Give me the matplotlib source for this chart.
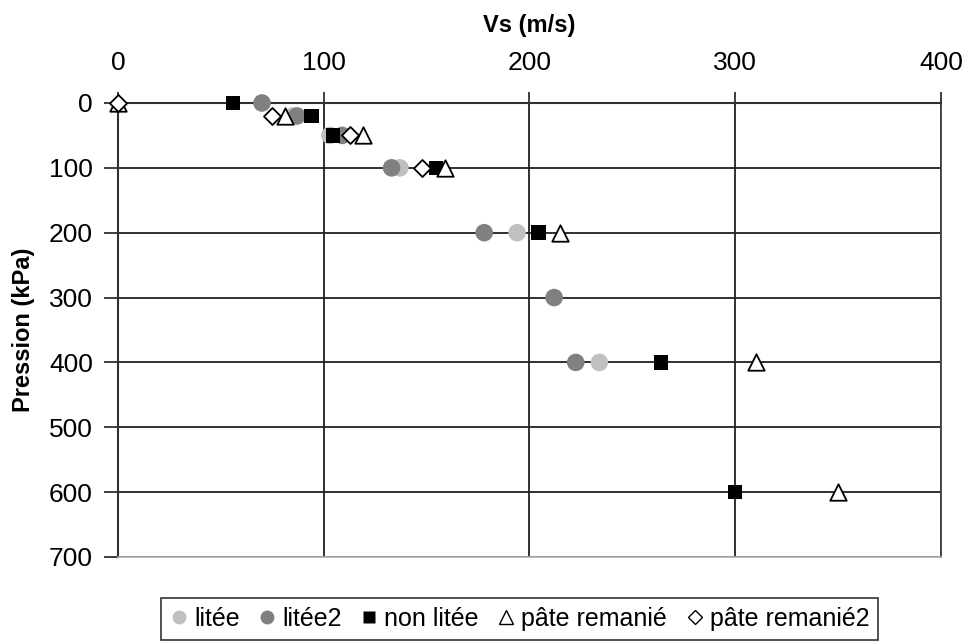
import matplotlib
matplotlib.use("Agg")
import matplotlib.pyplot as plt
from matplotlib.lines import Line2D

plt.rcParams['font.family'] = ['Liberation Sans', 'DejaVu Sans']

# Data: pressure (kPa) vs shear-wave velocity Vs (m/s)
litee_p = [20, 50, 100, 200, 400]
litee_vs = [85, 103, 137, 194, 234]

litee2_p = [0, 20, 50, 100, 200, 300, 400]
litee2_vs = [70, 87, 109, 133, 178, 212, 222.5]

nonlitee_p = [0, 20, 50, 100, 200, 400, 600]
nonlitee_vs = [56, 94, 104.5, 154.5, 204.5, 264, 300]

pate_p = [0, 20, 50, 100, 200, 400, 600]
pate_vs = [0, 81, 119, 159, 215, 310, 350]

pate2_p = [0, 20, 50, 100]
pate2_vs = [0, 75, 113, 148]

series_names = ["litée", "litée2", "non litée", "pâte remanié", "pâte remanié2"]
x_ticks = [0, 100, 200, 300, 400]
y_ticks = [0, 100, 200, 300, 400, 500, 600, 700]

fig = plt.figure(figsize=(9.67, 6.42), dpi=100)
ax = fig.add_axes([0.122, 0.1324, 0.851, 0.7072])

ax.scatter(litee_vs, litee_p, marker='o', s=160, color='#c0c0c0', edgecolors='none', zorder=3, clip_on=False)
ax.scatter(litee2_vs, litee2_p, marker='o', s=160, color='#808080', edgecolors='none', zorder=4, clip_on=False)
ax.scatter(nonlitee_vs, nonlitee_p, marker='s', s=110, color='black', edgecolors='none', zorder=5, clip_on=False)
ax.scatter(pate_vs, pate_p, marker='^', s=140, facecolors='white', edgecolors='black', linewidths=1.3, zorder=6, clip_on=False)
ax.scatter(pate2_vs, pate2_p, marker='D', s=75, facecolors='white', edgecolors='black', linewidths=1.3, zorder=7, clip_on=False)

ax.set_xlim(0, 400)
ax.set_ylim(700, 0)
ax.set_xticks(x_ticks)
ax.set_yticks(y_ticks)
ax.xaxis.tick_top()
ax.xaxis.set_label_position('top')

ax.grid(True, color='#202020', linewidth=1.3)
ax.set_axisbelow(True)

for side in ['left', 'top']:
    ax.spines[side].set_color('#303030')
    ax.spines[side].set_linewidth(1.5)
ax.spines['bottom'].set_color('#b0b0b0')
ax.spines['bottom'].set_linewidth(1.2)
ax.spines['right'].set_color('#404040')
ax.spines['right'].set_linewidth(1.3)

ax.tick_params(axis='x', which='both', top=True, bottom=False, length=8, width=1.3,
               pad=12, labelsize=19, color='#303030')
ax.tick_params(axis='y', which='both', left=True, length=10, width=1.3,
               pad=8, labelsize=19, color='#303030')

ax.set_xlabel("Vs (m/s)", fontsize=17, fontweight='bold', labelpad=14)
ax.set_ylabel("Pression (kPa)", fontsize=17, fontweight='bold', labelpad=10)

handles = [
    Line2D([], [], linestyle='none', marker='o', markersize=10, markerfacecolor='#c0c0c0', markeredgecolor='none'),
    Line2D([], [], linestyle='none', marker='o', markersize=10, markerfacecolor='#808080', markeredgecolor='none'),
    Line2D([], [], linestyle='none', marker='s', markersize=8, markerfacecolor='black', markeredgecolor='none'),
    Line2D([], [], linestyle='none', marker='^', markersize=10, markerfacecolor='white', markeredgecolor='black', markeredgewidth=1),
    Line2D([], [], linestyle='none', marker='D', markersize=7, markerfacecolor='white', markeredgecolor='black', markeredgewidth=1),
]
leg = fig.legend(handles, series_names, loc='center', bbox_to_anchor=(0.537, 0.036),
                 ncol=5, fontsize=18, frameon=True, fancybox=False, handlelength=0.8,
                 handletextpad=0.2, columnspacing=0.7, borderpad=0.35)
leg.get_frame().set_edgecolor('black')
leg.get_frame().set_linewidth(1.2)

fig.savefig("out.png", dpi=100)
